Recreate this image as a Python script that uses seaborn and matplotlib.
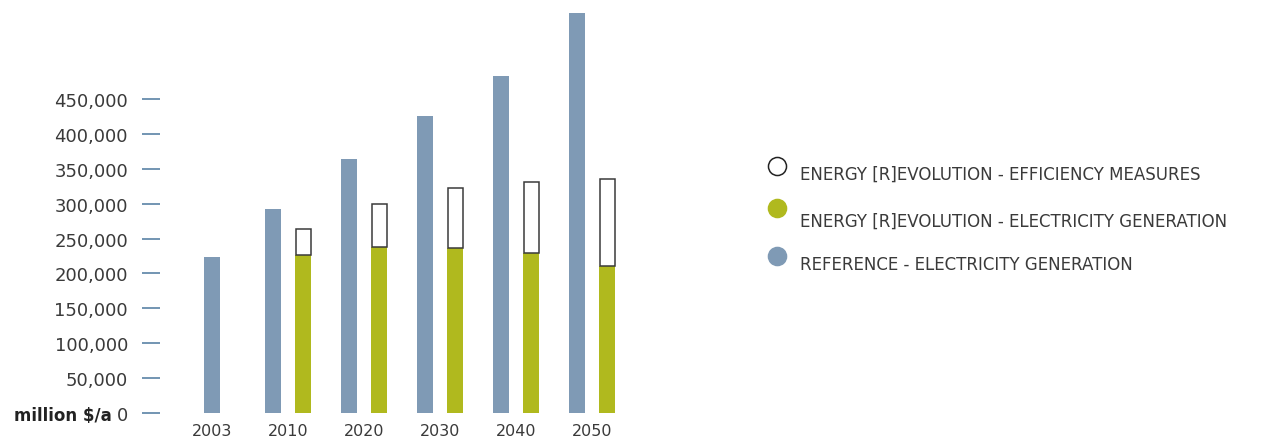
import matplotlib
matplotlib.use("Agg")
import matplotlib.pyplot as plt
from matplotlib.lines import Line2D
import seaborn as sns
import numpy as np

years = ["2003", "2010", "2020", "2030", "2040", "2050"]
reference = [224000, 292000, 364000, 426000, 483000, 573000]
er_generation = [227000, 238000, 236000, 229000, 210000]   # 2010..2050
er_efficiency = [37000, 61000, 86000, 102000, 125000]      # 2010..2050
yticks = [0, 50000, 100000, 150000, 200000, 250000, 300000, 350000, 400000, 450000]
legend_labels = [
    "ENERGY [R]EVOLUTION - EFFICIENCY MEASURES",
    "ENERGY [R]EVOLUTION - ELECTRICITY GENERATION",
    "REFERENCE - ELECTRICITY GENERATION",
]

BLUE = "#7f9ab5"
GREEN = "#b0b91e"
TXT = "#3a3a3a"
TICK = "#5a83a6"

sns.set_style("white")
plt.rcParams["font.family"] = ["DejaVu Sans"]

W, H = 1268, 439
fig = plt.figure(figsize=(W / 100, H / 100), dpi=100)

ax_left, ax_right, ax_bottom = 160, 700, 414
ymax = 575000
px_per_unit = 314 / 450000
ax_h = ymax * px_per_unit
ax = fig.add_axes([ax_left / W, 1 - ax_bottom / H, (ax_right - ax_left) / W, ax_h / H])

# layout: group centres at 0..5; paired bars offset +-0.2, single 2003 bar centred
bar_w = 0.21
off = 0.2
ref_pos = [0.0] + [i - off for i in range(1, len(years))]
er_pos = [i + off for i in range(1, len(years))]


def native_w(pos):
    return bar_w / np.min(np.diff(np.unique(pos)))


sns.barplot(x=ref_pos, y=reference, native_scale=True, width=native_w(ref_pos),
            color=BLUE, linewidth=0, saturation=1, errorbar=None, ax=ax)
sns.barplot(x=er_pos, y=er_generation, native_scale=True, width=native_w(er_pos),
            color=GREEN, linewidth=0, saturation=1, errorbar=None, ax=ax)
sns.barplot(x=er_pos, y=er_efficiency, native_scale=True, width=native_w(er_pos) * 0.94,
            bottom=er_generation, color="white", edgecolor="#3a3a3a", linewidth=1.1,
            saturation=1, errorbar=None, ax=ax)

ax.set_ylim(0, ymax)
ax.set_xlim(-(212 - ax_left) / 76, (ax_right - 212) / 76)
ax.set_xticks(range(len(years)))
ax.set_xticklabels(years)
ax.set_yticks(yticks)
ax.set_yticklabels(["0"] + [f"{v:,}" for v in yticks[1:]])
ax.tick_params(axis="y", length=13, width=1.2, color=TICK, pad=10, labelsize=13,
               labelcolor=TXT, left=True)
ax.tick_params(axis="x", length=0, pad=7, labelsize=11.5, labelcolor=TXT)
ax.set_xlabel("")
ax.set_ylabel("")
for s in ax.spines.values():
    s.set_visible(False)

fig.text(112 / W, 1 - 414 / H, "million $/a", ha="right", va="center_baseline",
         fontsize=12, fontweight="bold", color="#222222")

marker_y = [167, 209, 257]
text_y = [175, 222, 265]
faces = ["white", GREEN, BLUE]
edges = ["#222222", GREEN, BLUE]
for my, ty, fc, ec, lab in zip(marker_y, text_y, faces, edges, legend_labels):
    fig.add_artist(Line2D([777 / W], [1 - my / H], marker="o", markersize=13,
                          markerfacecolor=fc, markeredgecolor=ec, markeredgewidth=1.1,
                          linestyle="none", transform=fig.transFigure))
    fig.text(800 / W, 1 - ty / H, lab, ha="left", va="center", fontsize=12, color=TXT)

fig.savefig("out.png", dpi=100)
